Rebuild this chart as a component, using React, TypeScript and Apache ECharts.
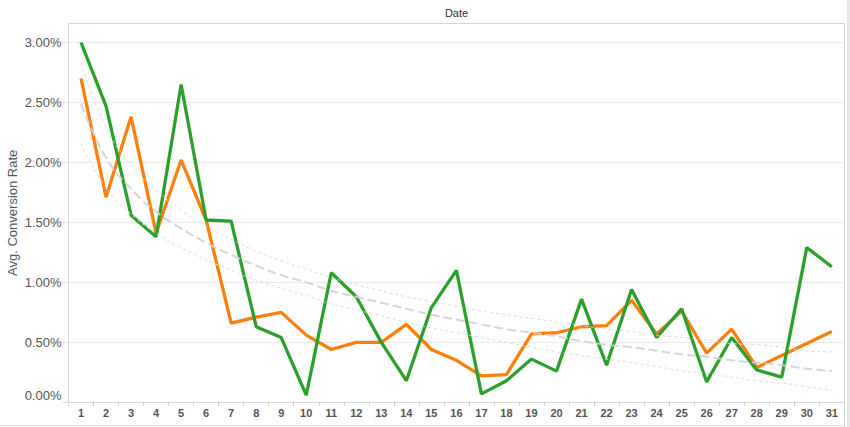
import React, { useEffect, useRef } from "react";
import * as echarts from "echarts";

const days = [
  "1", "2", "3", "4", "5", "6", "7", "8", "9", "10",
  "11", "12", "13", "14", "15", "16", "17", "18", "19", "20",
  "21", "22", "23", "24", "25", "26", "27", "28", "29", "30", "31",
];

// Avg. conversion rate, in percent
const orangeRate = [
  2.7, 1.71, 2.38, 1.41, 2.02, 1.52, 0.66, 0.71, 0.75, 0.56,
  0.44, 0.5, 0.5, 0.65, 0.44, 0.35, 0.22, 0.23, 0.57, 0.58,
  0.63, 0.64, 0.85, 0.57, 0.76, 0.41, 0.61, 0.29, 0.39, 0.49, 0.59,
];

const greenRate = [
  3.0, 2.47, 1.56, 1.38, 2.65, 1.52, 1.51, 0.63, 0.54, 0.06,
  1.08, 0.88, 0.5, 0.18, 0.79, 1.1, 0.07, 0.18, 0.36, 0.26,
  0.86, 0.31, 0.94, 0.54, 0.78, 0.17, 0.54, 0.27, 0.21, 1.29, 1.13,
];

// Trend line
const trendCenter = [
  2.49, 2.04, 1.78, 1.59, 1.45, 1.33, 1.23, 1.14, 1.06, 1.0,
  0.93, 0.88, 0.83, 0.78, 0.73, 0.69, 0.65, 0.61, 0.58, 0.55,
  0.51, 0.48, 0.46, 0.43, 0.4, 0.38, 0.35, 0.33, 0.31, 0.28, 0.26,
];
const trendUpper = [
  2.83, 2.29, 1.98, 1.77, 1.6, 1.47, 1.36, 1.26, 1.18, 1.11,
  1.04, 0.98, 0.93, 0.88, 0.84, 0.8, 0.76, 0.73, 0.7, 0.67,
  0.64, 0.61, 0.59, 0.56, 0.54, 0.52, 0.49, 0.48, 0.46, 0.43, 0.42,
];
const trendLower = [
  2.16, 1.79, 1.57, 1.41, 1.29, 1.19, 1.1, 1.02, 0.95, 0.89,
  0.82, 0.77, 0.72, 0.67, 0.62, 0.58, 0.54, 0.5, 0.46, 0.42,
  0.39, 0.36, 0.33, 0.3, 0.26, 0.24, 0.21, 0.18, 0.16, 0.13, 0.1,
];

const FONT = '"Liberation Sans", Arial, sans-serif';

export default function App() {
  const ref = useRef<HTMLDivElement>(null);

  useEffect(() => {
    if (!ref.current) return;
    const chart = echarts.init(ref.current, null, { renderer: "svg" });
    const option: any = {
      animation: false,
      textStyle: { fontFamily: FONT },
      grid: {
        left: 68.5,
        right: 5.7,
        top: 23.3,
        bottom: 24.7,
        containLabel: false,
        outerBoundsMode: "none",
      },
      xAxis: {
        type: "category",
        data: days,
        boundaryGap: true,
        axisLine: { show: true, lineStyle: { color: "#d4d4d4" } },
        axisTick: { show: true, length: 4, lineStyle: { color: "#d4d4d4" } },
        axisLabel: { color: "#555", fontSize: 11, fontWeight: "bold", margin: 5, fontFamily: FONT },
        splitLine: { show: false },
      },
      yAxis: {
        type: "value",
        min: 0,
        max: 3.16,
        interval: 0.5,
        name: "Avg. Conversion Rate",
        nameLocation: "middle",
        nameGap: 50,
        nameMoveOverlap: false,
        nameTextStyle: { color: "#555", fontSize: 13, fontFamily: FONT },
        axisLine: { show: true, lineStyle: { color: "#d4d4d4" } },
        axisTick: { show: true, length: 6, lineStyle: { color: "#e0e0e0" } },
        axisLabel: {
          color: "#555",
          fontSize: 13,
          margin: 7,
          fontFamily: FONT,
          verticalAlignMinLabel: "bottom",
          formatter: (v: number) =>
            Math.abs(v * 2 - Math.round(v * 2)) < 1e-6 ? v.toFixed(2) + "%" : "",
        },
        splitLine: { show: true, lineStyle: { color: "#ebebeb", width: 1 } },
      },
      series: [
        {
          name: "Orange",
          type: "line",
          data: orangeRate,
          symbol: "none",
          lineStyle: { color: "#ff7f0e", width: 3.3 },
          z: 3,
        },
        {
          name: "Green",
          type: "line",
          data: greenRate,
          symbol: "none",
          lineStyle: { color: "#2ca02c", width: 3.3 },
          z: 4,
        },
        {
          name: "Trend",
          type: "line",
          data: trendCenter,
          symbol: "none",
          smooth: true,
          silent: true,
          lineStyle: { color: "#d2d2d2", width: 2, type: [9, 4], opacity: 0.9 },
          z: 5,
        },
        {
          name: "Upper",
          type: "line",
          data: trendUpper,
          symbol: "none",
          smooth: true,
          silent: true,
          lineStyle: { color: "#d6d6d6", width: 1, type: [3, 3], opacity: 0.9 },
          z: 5,
        },
        {
          name: "Lower",
          type: "line",
          data: trendLower,
          symbol: "none",
          smooth: true,
          silent: true,
          lineStyle: { color: "#d6d6d6", width: 1, type: [3, 3], opacity: 0.9 },
          z: 5,
        },
      ],
      graphic: [
        {
          type: "text",
          x: 456.5,
          y: 13,
          style: {
            text: "Date",
            fill: "#333",
            font: "11px " + FONT,
            align: "center",
            verticalAlign: "middle",
          },
        },
        {
          type: "line",
          shape: { x1: 62, y1: 23.5, x2: 844.5, y2: 23.5 },
          style: { stroke: "#ffffff", lineWidth: 1 },
          z: 9,
        },
        {
          type: "line",
          shape: { x1: 68.5, y1: 23.5, x2: 844.5, y2: 23.5 },
          style: { stroke: "#d4d4d4", lineWidth: 1 },
          z: 10,
        },
        {
          type: "line",
          shape: { x1: 844.5, y1: 23.5, x2: 844.5, y2: 427 },
          style: { stroke: "#d4d4d4", lineWidth: 1 },
          z: 10,
        },
        {
          type: "line",
          shape: { x1: 0, y1: 425.5, x2: 844.5, y2: 425.5 },
          style: { stroke: "#e3e3e3", lineWidth: 1 },
        },
        {
          type: "rect",
          shape: { x: 847, y: 0, width: 3, height: 427 },
          style: { fill: "#e8e8e8" },
        },
      ],
    };
    chart.setOption(option);
    return () => chart.dispose();
  }, []);

  return (
    <div
      ref={ref}
      style={{ position: "fixed", left: 0, top: 0, width: 850, height: 427, background: "#fff" }}
    />
  );
}
